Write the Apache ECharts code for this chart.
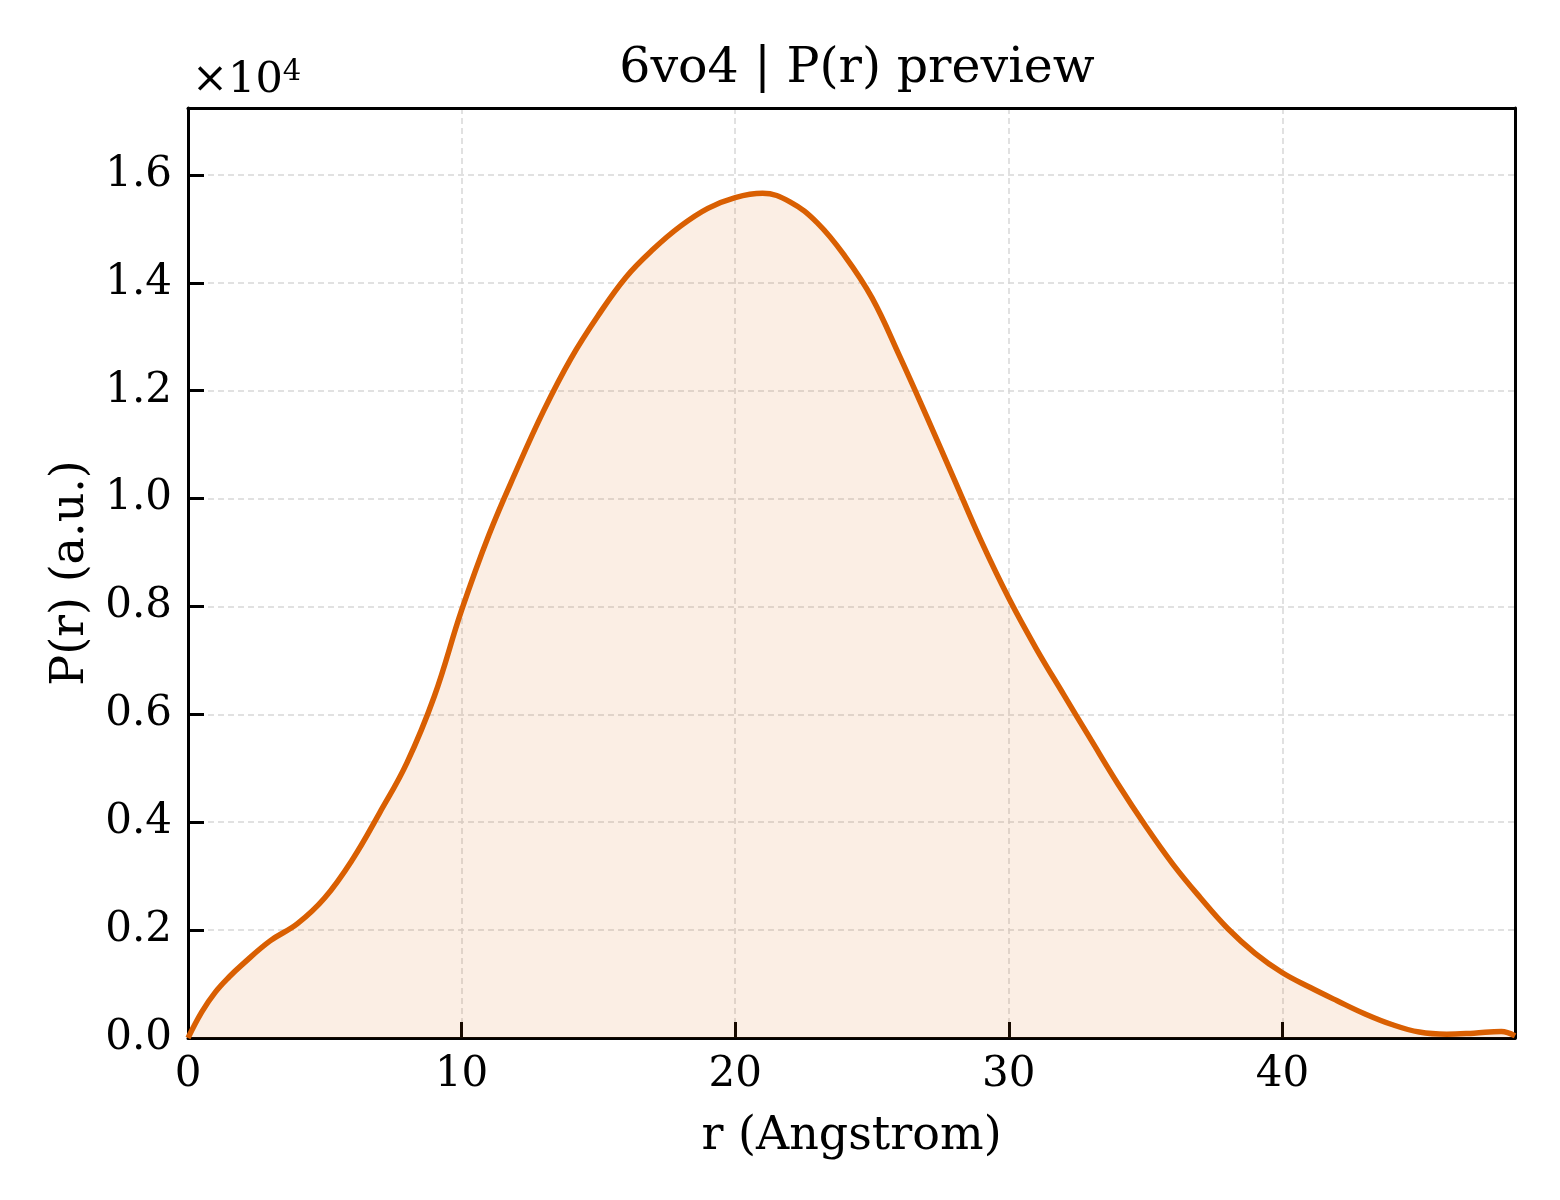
<!DOCTYPE html>
<html>
<head>
<meta charset="utf-8">
<title>6vo4 P(r) preview</title>
<script src="https://cdn.jsdelivr.net/npm/echarts@6/dist/echarts.min.js"></script>
<style>
  html, body { margin: 0; padding: 0; background: #fff; }
  #chart { width: 1560px; height: 1200px; }
</style>
</head>
<body>
<div id="chart"></div>
<script>
// r in Angstrom, P(r) in raw units (axis shows x1e4)
var rValues = [0, 0.5, 1, 1.5, 2, 3, 4, 5, 6, 7, 8, 9, 10, 11, 12, 13, 14, 15, 16, 17, 18, 19, 20, 21, 22, 23, 24,
               25, 26, 27, 28, 29, 30, 31, 32, 33, 34, 35, 36, 37, 38, 39, 40, 41, 42, 43, 44, 45, 46, 47, 48, 48.5];
var pValues = [0, 480, 850, 1130, 1370, 1800, 2120, 2600, 3300, 4170, 5100, 6330, 7930, 9330, 10520, 11630,
               12600, 13400, 14100, 14620, 15050, 15380, 15580, 15660, 15500, 15110, 14500, 13720, 12650, 11520,
               10360, 9200, 8150, 7220, 6370, 5530, 4700, 3930, 3220, 2600, 2030, 1570, 1210, 940, 690, 450,
               250, 110, 70, 90, 120, 40];
var yTicks = [0, 2000, 4000, 6000, 8000, 10000, 12000, 14000, 16000];
var xTicks = [0, 10, 20, 30, 40];

var seriesData = rValues.map(function (r, i) { return [r, pValues[i]]; });

var font = 'DejaVu Serif';
var chart = echarts.init(document.getElementById('chart'));

var frameAxis = {
    axisLine: { show: true, onZero: false, lineStyle: { color: '#000', width: 3 } },
    axisTick: { show: false },
    axisLabel: { show: false },
    splitLine: { show: false }
};

var option = {
    backgroundColor: '#fff',
    animation: false,
    title: {
        text: '6vo4 | P(r) preview',
        left: 852, top: 40, textAlign: 'center',
        textStyle: { fontFamily: font, fontSize: 49, fontWeight: 'normal', color: '#000' }
    },
    grid: { left: 188, right: 45, top: 108, bottom: 162 },
    graphic: [{
        type: 'text',
        left: 192, top: 58,
        style: {
            text: '×10{sup|4}',
            fontFamily: font, fontSize: 43, fill: '#000',
            rich: { sup: { fontFamily: font, fontSize: 29, verticalAlign: 'top', padding: [0, 0, 16, 0] } }
        }
    }],
    xAxis: [{
        type: 'value',
        min: 0, max: 48.5, interval: 10,
        name: 'r (Angstrom)', nameLocation: 'middle', nameGap: 76,
        nameTextStyle: { fontFamily: font, fontSize: 46, color: '#000' },
        axisLine: { show: true, onZero: false, lineStyle: { color: '#000', width: 3 } },
        axisTick: { show: true, inside: true, length: 16, lineStyle: { color: '#000', width: 3 } },
        axisLabel: {
            fontFamily: font, fontSize: 42, color: '#000', margin: 16, showMaxLabel: false,
            formatter: function (v) { return xTicks.indexOf(v) >= 0 ? String(v) : ''; }
        },
        splitLine: { show: true, lineStyle: { color: '#d8d8d8', width: 1.5, type: [6, 4] } }
    }, Object.assign({ type: 'value', position: 'top', min: 0, max: 48.5 }, frameAxis)],
    yAxis: [{
        type: 'value',
        min: 0, max: 17240, interval: 2000,
        name: 'P(r) (a.u.)', nameLocation: 'middle', nameGap: 94, nameRotate: 90,
        nameTextStyle: { fontFamily: font, fontSize: 46, color: '#000' },
        axisLine: { show: true, onZero: false, lineStyle: { color: '#000', width: 3 } },
        axisTick: { show: true, inside: true, length: 16, lineStyle: { color: '#000', width: 3 } },
        axisLabel: {
            fontFamily: font, fontSize: 42, color: '#000', margin: 16, showMaxLabel: false,
            formatter: function (v) { return yTicks.indexOf(v) >= 0 ? (v / 10000).toFixed(1) : ''; }
        },
        splitLine: { show: true, lineStyle: { color: '#d8d8d8', width: 1.5, type: [6, 4] } }
    }, Object.assign({ type: 'value', position: 'right', min: 0, max: 17240 }, frameAxis)],
    series: [{
        type: 'line',
        data: seriesData,
        smooth: 0.4,
        showSymbol: false,
        lineStyle: { color: '#d95f02', width: 5.5 },
        areaStyle: { color: 'rgba(217,95,2,0.15)' },
        z: 3
    }]
};

chart.setOption(option);
</script>
</body>
</html>
